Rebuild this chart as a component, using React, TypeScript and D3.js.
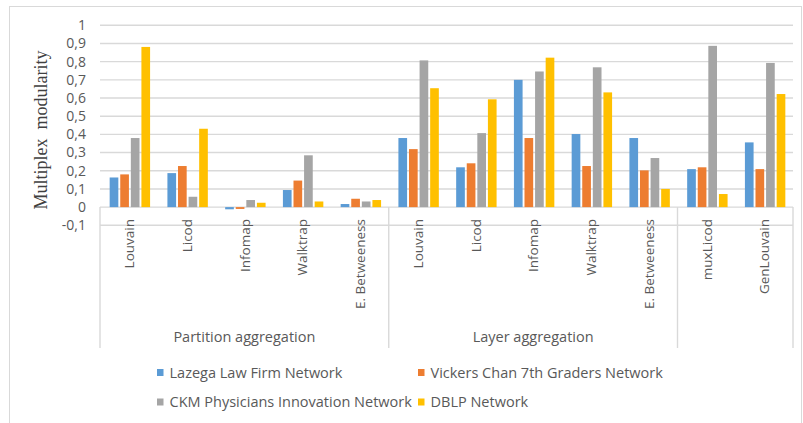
import React from "react";
import * as d3 from "d3";

const categories = [
  "Louvain", "Licod", "Infomap", "Walktrap", "E. Betweeness",
  "Louvain", "Licod", "Infomap", "Walktrap", "E. Betweeness",
  "muxLicod", "GenLouvain",
];
const groups = [
  { label: "Partition aggregation", start: 0, end: 5 },
  { label: "Layer aggregation", start: 5, end: 10 },
  { label: "", start: 10, end: 12 },
];
const seriesNames = [
  "Lazega Law Firm Network",
  "Vickers Chan 7th Graders Network",
  "CKM Physicians Innovation Network",
  "DBLP Network",
];
const seriesColors = ["#5B9BD5", "#ED7D31", "#A5A5A5", "#FFC000"];

const lazega = [0.163, 0.187, -0.012, 0.094, 0.017, 0.38, 0.219, 0.7, 0.402, 0.38, 0.209, 0.356];
const vickers = [0.18, 0.226, -0.01, 0.146, 0.046, 0.319, 0.241, 0.38, 0.226, 0.202, 0.219, 0.209];
const ckm = [0.38, 0.057, 0.039, 0.285, 0.031, 0.807, 0.407, 0.746, 0.769, 0.27, 0.887, 0.793];
const dblp = [0.881, 0.431, 0.024, 0.031, 0.039, 0.654, 0.593, 0.822, 0.631, 0.1, 0.072, 0.622];
const seriesValues = [lazega, vickers, ckm, dblp];

const yTickValues = [-0.1, 0, 0.1, 0.2, 0.3, 0.4, 0.5, 0.6, 0.7, 0.8, 0.9, 1];
const yTickLabels = ["-0,1", "0", "0,1", "0,2", "0,3", "0,4", "0,5", "0,6", "0,7", "0,8", "0,9", "1"];
const yTitle = "Multiplex  modularity";

const W = 803;
const H = 423;
const plotLeft = 100;
const plotRight = 793;
const font = "'Open Sans', 'Noto Sans', sans-serif";
const textColor = "#595959";
const gridColor = "#D9D9D9";

export default function App() {
  const x0 = d3.scaleBand<number>()
    .domain(d3.range(categories.length))
    .range([plotLeft, plotRight]);
  const bw = x0.bandwidth();
  const groupW = bw * 0.7;
  const x1 = d3.scaleBand<number>()
    .domain(d3.range(seriesNames.length))
    .range([0, groupW])
    .paddingInner(0.18);
  const y = d3.scaleLinear().domain([-0.1, 1]).range([225.3, 25.3]);
  const y0 = y(0);
  const sepBottom = 348;
  const labelTop = 219;

  const bounds = [...groups.map((g) => g.start), categories.length];

  return (
    <svg
      width={W}
      height={H}
      style={{ position: "absolute", left: 0, top: 0, background: "#fff" }}
    >
      <rect x={0} y={0} width={W} height={H} fill="#fff" />
      <rect x={9.5} y={6.5} width={792} height={440} fill="none" stroke={gridColor} strokeWidth={1} />

      {yTickValues.map((t, i) => (
        <line
          key={"g" + i}
          x1={plotLeft}
          x2={plotRight}
          y1={y(t)}
          y2={y(t)}
          stroke={gridColor}
          strokeWidth={1.4}
        />
      ))}

      {bounds.map((b, i) => {
        const xx = b < categories.length ? x0(b)! : plotRight;
        return (
          <line
            key={"s" + i}
            x1={xx}
            x2={xx}
            y1={y0}
            y2={sepBottom}
            stroke={gridColor}
            strokeWidth={1.4}
          />
        );
      })}

      {categories.map((c, ci) => (
        <g key={"c" + ci} transform={`translate(${x0(ci)! + (bw - groupW) / 2 + 1},0)`}>
          {seriesValues.map((vals, si) => {
            const v = vals[ci];
            const top = Math.min(y(v), y0);
            const h = Math.abs(y(v) - y0);
            return (
              <rect
                key={si}
                x={x1(si)}
                y={top}
                width={x1.bandwidth()}
                height={h}
                fill={seriesColors[si]}
              />
            );
          })}
        </g>
      ))}

      {yTickValues.map((t, i) => (
        <text
          key={"t" + i}
          x={86}
          y={y(t)}
          dy="0.35em"
          textAnchor="end"
          fontFamily={font}
          fontSize={14}
          fill={textColor}
        >
          {yTickLabels[i]}
        </text>
      ))}

      <text
        transform={`translate(47,130) rotate(-90)`}
        textAnchor="middle"
        fontFamily="'Liberation Serif', 'DejaVu Serif', serif"
        fontSize={18}
        fill="#404040"
        style={{ whiteSpace: "pre" }}
      >
        {yTitle}
      </text>

      {categories.map((c, ci) => (
        <text
          key={"l" + ci}
          transform={`translate(${x0(ci)! + bw / 2 + 0.5},${labelTop}) rotate(-90)`}
          dy="0.35em"
          textAnchor="end"
          fontFamily={font}
          fontSize={13.5}
          fill={textColor}
        >
          {c}
        </text>
      ))}

      {groups.map((g, gi) => {
        const a = x0(g.start)!;
        const b = g.end < categories.length ? x0(g.end)! : plotRight;
        return (
          <text
            key={"gl" + gi}
            x={(a + b) / 2}
            y={337}
            dy="0.35em"
            textAnchor="middle"
            fontFamily={font}
            fontSize={14.5}
            fill={textColor}
          >
            {g.label}
          </text>
        );
      })}

      {seriesNames.map((s, si) => {
        const col = si % 2;
        const row = Math.floor(si / 2);
        const lx = col === 0 ? 157 : 418;
        const ly = row === 0 ? 372.5 : 402;
        return (
          <g key={"lg" + si}>
            <rect x={lx} y={ly - 3.5} width={6.5} height={7} fill={seriesColors[si]} />
            <text
              x={lx + 12.5}
              y={ly}
              dy="0.35em"
              fontFamily={font}
              fontSize={14.5}
              fill={textColor}
            >
              {s}
            </text>
          </g>
        );
      })}
    </svg>
  );
}
